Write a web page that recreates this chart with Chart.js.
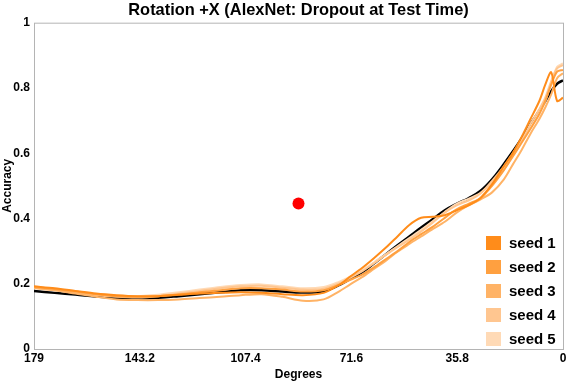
<!DOCTYPE html>
<html>
<head>
	<meta charset="utf-8">
	<title>Rotation +X</title>
	<script src="https://cdn.jsdelivr.net/npm/chart.js@4.4.0/dist/chart.umd.min.js"></script>
	<style>
		body { margin: 0; background: #fff; }
	</style>
</head>
<body>

	<canvas id="mychart" width="574" height="383"></canvas>

	<script type="text/javascript">

		// degrees of rotation (x axis runs from 179 down to 0)
		const degrees = [179,172,165,158,151,144,137,130,123,116,109,102,95,88,81,76,72,68,64,60,56,52,48,44,40,36,32,28,24,20,17,14,11,8,6,4,2,0];

		const seed1 = [0.192,0.186,0.178,0.170,0.165,0.162,0.162,0.166,0.170,0.172,0.174,0.172,0.168,0.165,0.172,0.195,0.222,0.248,0.278,0.310,0.345,0.380,0.402,0.405,0.410,0.425,0.440,0.462,0.505,0.560,0.600,0.650,0.705,0.760,0.810,0.848,0.760,0.770];
		const seed2 = [0.190,0.184,0.176,0.168,0.162,0.160,0.162,0.167,0.174,0.180,0.186,0.186,0.182,0.176,0.180,0.196,0.212,0.228,0.250,0.275,0.300,0.328,0.352,0.375,0.402,0.428,0.445,0.462,0.500,0.548,0.590,0.632,0.675,0.720,0.760,0.810,0.850,0.855];
		const seed3 = [0.188,0.180,0.170,0.160,0.152,0.150,0.150,0.152,0.156,0.160,0.165,0.168,0.160,0.148,0.152,0.175,0.198,0.220,0.245,0.270,0.298,0.322,0.345,0.368,0.390,0.418,0.440,0.458,0.480,0.520,0.565,0.610,0.660,0.705,0.740,0.780,0.830,0.845];
		const seed4 = [0.186,0.180,0.172,0.165,0.160,0.158,0.162,0.170,0.178,0.186,0.192,0.194,0.188,0.182,0.185,0.200,0.218,0.238,0.262,0.288,0.312,0.335,0.360,0.388,0.418,0.440,0.455,0.476,0.515,0.560,0.600,0.640,0.690,0.735,0.770,0.820,0.860,0.870];
		const seed5 = [0.190,0.182,0.175,0.168,0.163,0.162,0.166,0.174,0.182,0.190,0.196,0.198,0.192,0.186,0.190,0.205,0.222,0.242,0.265,0.290,0.315,0.340,0.365,0.392,0.420,0.445,0.460,0.478,0.510,0.550,0.590,0.635,0.680,0.725,0.760,0.815,0.865,0.875];
		const meanAcc = [0.178,0.172,0.167,0.161,0.157,0.155,0.157,0.162,0.168,0.174,0.180,0.180,0.176,0.173,0.177,0.195,0.215,0.235,0.262,0.290,0.318,0.345,0.372,0.398,0.425,0.445,0.462,0.484,0.520,0.567,0.605,0.645,0.690,0.730,0.760,0.790,0.813,0.823];

		const redPoint = [89.5, 0.446];

		const seedLabels = ['seed 1','seed 2','seed 3','seed 4','seed 5'];
		const seedColors = ['#ff8c1a','#ffa040','#ffb366','#ffc690','#ffdab6'];

		const xTicks = [179, 143.2, 107.4, 71.6, 35.8, 0];
		const yTicks = [0, 0.2, 0.4, 0.6, 0.8, 1];

		const FONT = "'Liberation Sans', Arial, sans-serif";

		function pts(ys){
			return degrees.map((d, i) => ({x: d, y: ys[i]}));
		}

		// legend drawn inside the plot, bottom right
		const boxLegend = {
			id: 'boxLegend',
			afterDatasetsDraw(chart){
				const ctx = chart.ctx;
				const a = chart.chartArea;
				ctx.save();
				ctx.font = 'bold 15px ' + FONT;
				ctx.textBaseline = 'middle';
				ctx.textAlign = 'left';
				seedLabels.forEach((lab, i) => {
					const cy = a.bottom - 106 + i * 24;
					const x0 = a.right - 77;
					ctx.fillStyle = seedColors[i];
					ctx.fillRect(x0, cy - 7, 15, 14);
					ctx.fillStyle = '#000';
					ctx.fillText(lab, x0 + 23, cy + 1);
				});
				ctx.restore();
			}
		};

		// grey frame round the plot area
		const frame = {
			id: 'frame',
			beforeDatasetsDraw(chart){
				const ctx = chart.ctx;
				const a = chart.chartArea;
				ctx.save();
				ctx.strokeStyle = '#b4b4b4';
				ctx.lineWidth = 1;
				ctx.strokeRect(a.left + 0.5, a.top + 0.5, a.right - a.left, a.bottom - a.top);
				ctx.restore();
			}
		};

		const seedSets = [seed1, seed2, seed3, seed4, seed5].map((s, i) => ({
			label: seedLabels[i],
			data: pts(s),
			borderColor: seedColors[i],
			borderWidth: 2,
			pointRadius: 0,
			fill: false,
			tension: 0.3
		}));

		const ctx = document.getElementById('mychart').getContext('2d');

		const myChart = new Chart(ctx, {
			type: 'line',
			data: {
				datasets: [
					...seedSets,
					{
						label: 'mean',
						data: pts(meanAcc),
						borderColor: '#000',
						borderWidth: 2.5,
						pointRadius: 0,
						fill: false,
						tension: 0.4
					},
					{
						label: 'test',
						type: 'scatter',
						data: [{x: redPoint[0], y: redPoint[1]}],
						backgroundColor: '#ff0000',
						borderColor: '#ff0000',
						pointRadius: 6,
						borderWidth: 0
					}
				]
			},
			options: {
				responsive: false,
				animation: false,
				layout: { padding: { left: 0, right: 11, top: 0, bottom: 0 } },
				plugins: {
					legend: { display: false },
					tooltip: { enabled: false },
					title: {
						display: true,
						fullSize: false,
						text: 'Rotation +X (AlexNet: Dropout at Test Time)',
						color: '#000',
						font: { family: FONT, size: 16.4, weight: 'bold' },
						padding: { top: 1, bottom: 2 }
					}
				},
				scales: {
					x: {
						type: 'linear',
						reverse: true,
						min: 0,
						max: 179,
						grid: { display: false, drawTicks: false, tickLength: 0 },
						border: { display: false },
						afterBuildTicks: s => { s.ticks = xTicks.map(v => ({value: v})); },
						afterFit: s => { s.height = 34; },
						ticks: {
							color: '#000',
							padding: 2,
							maxRotation: 0,
							autoSkip: false,
							font: { family: FONT, size: 12, weight: 'bold' },
							callback: v => String(v)
						},
						title: {
							display: true,
							text: 'Degrees',
							color: '#000',
							font: { family: FONT, size: 12, weight: 'bold' },
							padding: { top: 0, bottom: 1 }
						}
					},
					y: {
						min: 0,
						max: 1,
						grid: { display: false, drawTicks: false, tickLength: 0 },
						border: { display: false },
						afterBuildTicks: s => { s.ticks = yTicks.map(v => ({value: v})); },
						afterFit: s => { s.width = 34; },
						ticks: {
							color: '#000',
							padding: 4,
							font: { family: FONT, size: 12, weight: 'bold' },
							callback: v => String(v)
						},
						title: {
							display: true,
							text: 'Accuracy',
							color: '#000',
							font: { family: FONT, size: 12, weight: 'bold' },
							padding: 0
						}
					}
				}
			},
			plugins: [frame, boxLegend]
		});

	</script>

</body>
</html>
